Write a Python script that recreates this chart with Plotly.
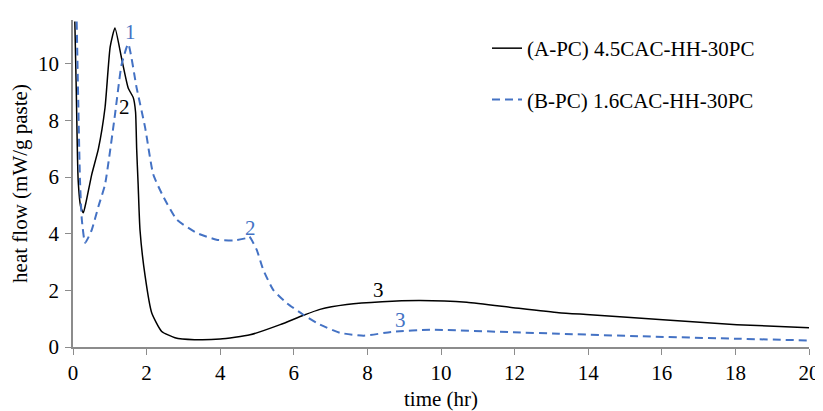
import plotly.graph_objects as go

# Series A-PC (black, solid)
a_time = [0.05, 0.09, 0.14, 0.21, 0.28, 0.36, 0.51, 0.69, 0.87, 1.01, 1.14, 1.32, 1.50, 1.64,
          1.70, 1.73, 1.77, 1.82, 1.96, 2.14, 2.41, 2.77, 3.3, 4.0, 4.81, 5.63, 6.26, 6.71,
          7.44, 8.4, 9.43, 10.7, 11.96, 13.2, 14.05, 16.03, 18.04, 20.0]
a_flow = [11.5, 9.0, 5.9, 4.95, 4.74, 5.15, 6.1, 7.0, 8.45, 10.6, 11.27, 10.2, 9.15, 8.8,
          8.3, 7.0, 5.74, 4.14, 2.5, 1.2, 0.55, 0.33, 0.26, 0.28, 0.43, 0.79, 1.12, 1.33,
          1.5, 1.6, 1.64, 1.58, 1.39, 1.21, 1.14, 0.96, 0.79, 0.68]

# Series B-PC (blue, dashed)
b_time = [0.10, 0.19, 0.24, 0.33, 0.51, 0.69, 0.87, 1.14, 1.32, 1.50, 1.73, 1.96, 2.18, 2.45,
          2.82, 3.36, 3.9, 4.36, 4.72, 4.79, 4.99, 5.17, 5.44, 5.81, 6.26, 6.71, 7.26, 7.9,
          8.7, 9.7, 11.96, 13.2, 15.4, 18.1, 20.0]
b_flow = [11.5, 5.9, 4.5, 3.68, 4.14, 4.96, 5.74, 8.2, 9.97, 10.7, 9.15, 7.75, 6.1, 5.32,
          4.5, 4.03, 3.79, 3.76, 3.85, 3.9, 3.44, 2.73, 2.02, 1.55, 1.14, 0.79, 0.5, 0.4,
          0.54, 0.61, 0.52, 0.47, 0.38, 0.29, 0.23]

series_names = ["(A-PC) 4.5CAC-HH-30PC", "(B-PC) 1.6CAC-HH-30PC"]

# Peak labels: (text, x, y, series index)
label_text = ["1", "2", "3", "1", "2", "3"]
label_x = [1.14, 1.41, 8.3, 1.55, 4.81, 8.89]
label_y = [11.67, 8.46, 2.0, 11.14, 4.21, 0.96]
label_series = [0, 0, 0, 1, 1, 1]

colors = ["#000000", "#4472C4"]
FONT = "Liberation Serif, Times New Roman, serif"
FS = 21

fig = go.Figure()
fig.add_trace(go.Scatter(x=a_time, y=a_flow, mode="lines", name=series_names[0],
                         legendgroup="a",
                         line=dict(color=colors[0], width=1.5, shape="spline", smoothing=0.5)))
fig.add_trace(go.Scatter(x=b_time, y=b_flow, mode="lines", name=series_names[1],
                         legendgroup="b",
                         line=dict(color=colors[1], width=2, dash="8px,5px", shape="spline", smoothing=0.5)))

for t, x, y, s in zip(label_text, label_x, label_y, label_series):
    fig.add_annotation(x=x, y=y, text=t, showarrow=False,
                       font=dict(family=FONT, size=FS, color=colors[s]))

axis_common = dict(showline=True, linecolor="#8c8c8c", linewidth=1.5, ticks="outside",
                   ticklen=6, tickcolor="#8c8c8c", tickwidth=1.2, showgrid=False, zeroline=False,
                   automargin=False,
                   tickfont=dict(family=FONT, size=FS, color="#000"))

# the page body has an 8px margin, so the figure is sized/offset to compensate
fig.update_layout(
    width=815, height=403,
    margin=dict(l=65, r=14, t=12, b=64),
    plot_bgcolor="white", paper_bgcolor="white",
    xaxis=dict(range=[0, 20], dtick=2, tick0=0,
               title=dict(text="time (hr)", standoff=12, font=dict(family=FONT, size=FS, color="#000")),
               **axis_common),
    yaxis=dict(range=[0, 11.55], dtick=2, tick0=0, ticklabelstandoff=2,
               title=dict(text="heat flow (mW/g paste)", standoff=15, font=dict(family=FONT, size=FS, color="#000")),
               **axis_common),
    legend=dict(x=0.5625, y=0.9755, xanchor="left", yanchor="top", traceorder="grouped",
                tracegroupgap=21, font=dict(family=FONT, size=FS, color="#000"),
                bgcolor="rgba(0,0,0,0)"),
    showlegend=True,
)

fig.write_html("out.html")
